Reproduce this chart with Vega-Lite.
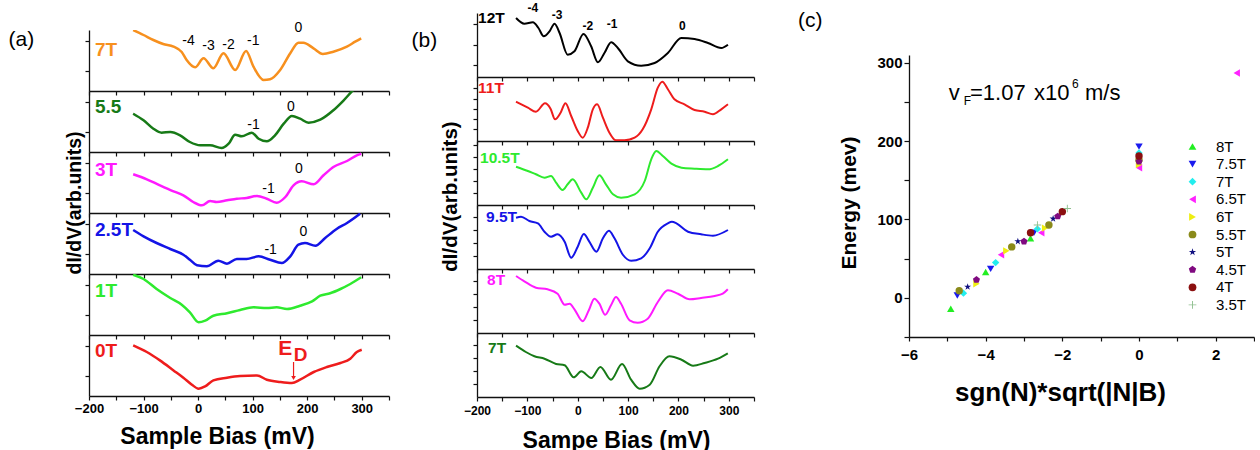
{
 "$schema": "https://vega.github.io/schema/vega-lite/v6.json",
 "background": "white",
 "padding": {"left": 8, "top": 2, "right": 0, "bottom": 0},
 "config": {
  "view": {"stroke": null},
  "font": "Liberation Sans",
  "text": {"font": "Liberation Sans"},
  "axis": {"grid": false, "domainColor": "#111", "tickColor": "#111", "domainWidth": 1.3, "tickWidth": 1.2, "tickSize": 4, "labelFont": "Liberation Sans", "titleFont": "Liberation Sans", "labelColor": "#000", "titleColor": "#000", "labelFontWeight": "bold", "titleFontWeight": "bold", "labelFlush": false, "labelOverlap": false}
 },
 "datasets": {
  "a": [
   {"B":"7T","bias":-119,"signal":61},{"B":"7T","bias":-100,"signal":56},{"B":"7T","bias":-82,"signal":51},{"B":"7T","bias":-64,"signal":47},{"B":"7T","bias":-45,"signal":44.3},{"B":"7T","bias":-30,"signal":39},{"B":"7T","bias":-21,"signal":31},{"B":"7T","bias":-5.5,"signal":23.7},{"B":"7T","bias":10,"signal":32.7},{"B":"7T","bias":28,"signal":22.7},{"B":"7T","bias":46.5,"signal":37.7},{"B":"7T","bias":68,"signal":21},{"B":"7T","bias":88,"signal":40},{"B":"7T","bias":101.5,"signal":24.3},{"B":"7T","bias":120,"signal":11},{"B":"7T","bias":132,"signal":11.7},{"B":"7T","bias":150.5,"signal":21},{"B":"7T","bias":169,"signal":37.7},{"B":"7T","bias":184,"signal":48.3},{"B":"7T","bias":193,"signal":48.3},{"B":"7T","bias":211.6,"signal":42.7},{"B":"7T","bias":228.7,"signal":37},{"B":"7T","bias":248,"signal":39.3},{"B":"7T","bias":272.8,"signal":44.3},{"B":"7T","bias":288,"signal":49.3},{"B":"7T","bias":299,"signal":52.7},
   {"B":"5.5","bias":-119,"signal":38.3},{"B":"5.5","bias":-100,"signal":31.7},{"B":"5.5","bias":-82,"signal":23.3},{"B":"5.5","bias":-67,"signal":19.3},{"B":"5.5","bias":-51,"signal":20},{"B":"5.5","bias":-33,"signal":16.7},{"B":"5.5","bias":-15,"signal":10},{"B":"5.5","bias":4,"signal":6.7},{"B":"5.5","bias":22,"signal":6.7},{"B":"5.5","bias":43,"signal":4},{"B":"5.5","bias":56,"signal":8.3},{"B":"5.5","bias":68,"signal":17.3},{"B":"5.5","bias":80,"signal":15.7},{"B":"5.5","bias":98.5,"signal":19.3},{"B":"5.5","bias":111,"signal":13.3},{"B":"5.5","bias":126,"signal":10.7},{"B":"5.5","bias":141,"signal":16.7},{"B":"5.5","bias":157,"signal":28.3},{"B":"5.5","bias":172,"signal":36},{"B":"5.5","bias":187,"signal":33.3},{"B":"5.5","bias":202.5,"signal":29.3},{"B":"5.5","bias":224,"signal":32.3},{"B":"5.5","bias":248,"signal":41.7},{"B":"5.5","bias":267,"signal":51.7},{"B":"5.5","bias":285,"signal":62.3},{"B":"5.5","bias":292,"signal":66},
   {"B":"3T","bias":-119,"signal":38.7},{"B":"3T","bias":-94,"signal":33.7},{"B":"3T","bias":-70,"signal":27.7},{"B":"3T","bias":-45,"signal":21.7},{"B":"3T","bias":-27,"signal":17.7},{"B":"3T","bias":-9,"signal":11},{"B":"3T","bias":7,"signal":7.7},{"B":"3T","bias":22,"signal":12},{"B":"3T","bias":34,"signal":11},{"B":"3T","bias":53,"signal":12.7},{"B":"3T","bias":71,"signal":14.3},{"B":"3T","bias":89,"signal":15},{"B":"3T","bias":108,"signal":17},{"B":"3T","bias":126,"signal":14.3},{"B":"3T","bias":144,"signal":10.3},{"B":"3T","bias":160,"signal":16},{"B":"3T","bias":175,"signal":27.7},{"B":"3T","bias":190,"signal":31.7},{"B":"3T","bias":212,"signal":28.7},{"B":"3T","bias":230,"signal":37.7},{"B":"3T","bias":248,"signal":46},{"B":"3T","bias":273,"signal":52},{"B":"3T","bias":291,"signal":57.7},{"B":"3T","bias":299,"signal":59.3},
   {"B":"2.5T","bias":-119,"signal":44},{"B":"2.5T","bias":-100,"signal":37.7},{"B":"2.5T","bias":-76,"signal":31},{"B":"2.5T","bias":-51,"signal":25},{"B":"2.5T","bias":-27,"signal":19.3},{"B":"2.5T","bias":-15,"signal":14.3},{"B":"2.5T","bias":-2,"signal":8.7},{"B":"2.5T","bias":16,"signal":7.7},{"B":"2.5T","bias":37,"signal":13.3},{"B":"2.5T","bias":53,"signal":10.3},{"B":"2.5T","bias":71,"signal":15},{"B":"2.5T","bias":89,"signal":15},{"B":"2.5T","bias":111,"signal":17.7},{"B":"2.5T","bias":132,"signal":14.3},{"B":"2.5T","bias":153.5,"signal":11},{"B":"2.5T","bias":169,"signal":17.7},{"B":"2.5T","bias":184,"signal":29.3},{"B":"2.5T","bias":196,"signal":31},{"B":"2.5T","bias":215,"signal":28.3},{"B":"2.5T","bias":233,"signal":36},{"B":"2.5T","bias":254,"signal":45},{"B":"2.5T","bias":273,"signal":51},{"B":"2.5T","bias":297,"signal":60.3},
   {"B":"1T","bias":-119,"signal":60.3},{"B":"1T","bias":-100,"signal":56},{"B":"1T","bias":-76,"signal":46},{"B":"1T","bias":-51,"signal":37},{"B":"1T","bias":-30,"signal":30.3},{"B":"1T","bias":-15,"signal":22.7},{"B":"1T","bias":1,"signal":12.7},{"B":"1T","bias":13,"signal":14.3},{"B":"1T","bias":28,"signal":19.3},{"B":"1T","bias":53,"signal":21.7},{"B":"1T","bias":77,"signal":25},{"B":"1T","bias":101.5,"signal":27.7},{"B":"1T","bias":126,"signal":27},{"B":"1T","bias":144,"signal":27.7},{"B":"1T","bias":163,"signal":26},{"B":"1T","bias":187,"signal":29.3},{"B":"1T","bias":209,"signal":33.7},{"B":"1T","bias":224,"signal":39.3},{"B":"1T","bias":242,"signal":41.7},{"B":"1T","bias":261,"signal":46},{"B":"1T","bias":279,"signal":51},{"B":"1T","bias":299,"signal":57.7},
   {"B":"0T","bias":-119,"signal":50.6},{"B":"0T","bias":-94,"signal":44},{"B":"0T","bias":-70,"signal":35.6},{"B":"0T","bias":-45,"signal":25.6},{"B":"0T","bias":-27,"signal":18.3},{"B":"0T","bias":-12,"signal":11.6},{"B":"0T","bias":1,"signal":7.3},{"B":"0T","bias":13,"signal":9.6},{"B":"0T","bias":28,"signal":15.6},{"B":"0T","bias":53,"signal":18.3},{"B":"0T","bias":77,"signal":20},{"B":"0T","bias":108,"signal":20.6},{"B":"0T","bias":126,"signal":16.3},{"B":"0T","bias":150.5,"signal":14},{"B":"0T","bias":172,"signal":13},{"B":"0T","bias":187,"signal":16.3},{"B":"0T","bias":212,"signal":24},{"B":"0T","bias":236,"signal":29},{"B":"0T","bias":261,"signal":33},{"B":"0T","bias":279,"signal":37.3},{"B":"0T","bias":291,"signal":44},{"B":"0T","bias":300,"signal":46.3}
  ],
  "alab": [
   {"B":"7T","bias":-17.7,"signal":50.3,"t":"-4"},{"B":"7T","bias":19,"signal":45,"t":"-3"},{"B":"7T","bias":55.7,"signal":46,"t":"-2"},{"B":"7T","bias":101,"signal":50.3,"t":"-1"},{"B":"7T","bias":184,"signal":62.7,"t":"0"},
   {"B":"5.5","bias":101.5,"signal":26.7,"t":"-1"},{"B":"5.5","bias":170,"signal":45,"t":"0"},
   {"B":"3T","bias":129,"signal":24.3,"t":"-1"},{"B":"3T","bias":185,"signal":44.3,"t":"0"},
   {"B":"2.5T","bias":133,"signal":24.3,"t":"-1"},{"B":"2.5T","bias":193,"signal":41.7,"t":"0"}
  ],
  "aname": [
   {"B":"7T","bias":-189,"signal":40.7,"t":"7T"},{"B":"5.5","bias":-189,"signal":45,"t":"5.5"},{"B":"3T","bias":-189,"signal":43,"t":"3T"},{"B":"2.5T","bias":-189,"signal":44,"t":"2.5T"},{"B":"1T","bias":-189,"signal":44.3,"t":"1T"},{"B":"0T","bias":-189,"signal":44.6,"t":"0T"}
  ],
  "edtext": [{"bias":160,"signal":47,"t":"E"},{"bias":188,"signal":41,"t":"D"}],
  "edarrow": [{"bias":175,"signal":34,"signal2":18}],
  "b": [
   {"B":"12T","bias":-122.5,"signal":59},{"B":"12T","bias":-106,"signal":53.3},{"B":"12T","bias":-89,"signal":54.7},{"B":"12T","bias":-78,"signal":49},{"B":"12T","bias":-67.5,"signal":40.7},{"B":"12T","bias":-56,"signal":45.7},{"B":"12T","bias":-46,"signal":53.3},{"B":"12T","bias":-36,"signal":44},{"B":"12T","bias":-20,"signal":22.3},{"B":"12T","bias":-6.5,"signal":25.7},{"B":"12T","bias":11.4,"signal":43},{"B":"12T","bias":26.6,"signal":30.7},{"B":"12T","bias":40,"signal":14.7},{"B":"12T","bias":53,"signal":24},{"B":"12T","bias":66.4,"signal":34.7},{"B":"12T","bias":79.6,"signal":29},{"B":"12T","bias":99.5,"signal":15.7},{"B":"12T","bias":126,"signal":11.3},{"B":"12T","bias":152.6,"signal":14},{"B":"12T","bias":179,"signal":24},{"B":"12T","bias":205.6,"signal":39},{"B":"12T","bias":232,"signal":38},{"B":"12T","bias":258.6,"signal":34},{"B":"12T","bias":285,"signal":29},{"B":"12T","bias":298.3,"signal":32.3},
   {"B":"11T","bias":-122.5,"signal":39.3},{"B":"11T","bias":-99,"signal":33.3},{"B":"11T","bias":-83,"signal":29.3},{"B":"11T","bias":-65,"signal":37.7},{"B":"11T","bias":-54,"signal":32.3},{"B":"11T","bias":-45,"signal":21.7},{"B":"11T","bias":-34,"signal":28.3},{"B":"11T","bias":-24.4,"signal":37.7},{"B":"11T","bias":-13,"signal":25},{"B":"11T","bias":0,"signal":10},{"B":"11T","bias":10,"signal":3.3},{"B":"11T","bias":20,"signal":13.3},{"B":"11T","bias":30,"signal":31.7},{"B":"11T","bias":38.6,"signal":36.7},{"B":"11T","bias":50,"signal":23.3},{"B":"11T","bias":63,"signal":8.3},{"B":"11T","bias":76,"signal":0.7},{"B":"11T","bias":93,"signal":0.7},{"B":"11T","bias":113,"signal":3.3},{"B":"11T","bias":129,"signal":11.7},{"B":"11T","bias":146,"signal":31.7},{"B":"11T","bias":159,"signal":53.3},{"B":"11T","bias":168,"signal":59.3},{"B":"11T","bias":179,"signal":51.7},{"B":"11T","bias":192,"signal":41.7},{"B":"11T","bias":212,"signal":36.7},{"B":"11T","bias":232,"signal":31},{"B":"11T","bias":252,"signal":29.3},{"B":"11T","bias":268.5,"signal":26.7},{"B":"11T","bias":285,"signal":31.7},{"B":"11T","bias":298.3,"signal":36.7},
   {"B":"10.5T","bias":-122.5,"signal":38.3},{"B":"10.5T","bias":-99,"signal":34},{"B":"10.5T","bias":-83,"signal":30.7},{"B":"10.5T","bias":-66,"signal":27.3},{"B":"10.5T","bias":-53,"signal":29},{"B":"10.5T","bias":-43,"signal":22.3},{"B":"10.5T","bias":-30,"signal":15},{"B":"10.5T","bias":-20,"signal":20.7},{"B":"10.5T","bias":-10,"signal":25.7},{"B":"10.5T","bias":7,"signal":12.3},{"B":"10.5T","bias":17,"signal":5.7},{"B":"10.5T","bias":30,"signal":17.3},{"B":"10.5T","bias":43,"signal":29.7},{"B":"10.5T","bias":56,"signal":20.7},{"B":"10.5T","bias":70,"signal":10.7},{"B":"10.5T","bias":86,"signal":7.3},{"B":"10.5T","bias":113,"signal":10.7},{"B":"10.5T","bias":133,"signal":24},{"B":"10.5T","bias":146,"signal":45.7},{"B":"10.5T","bias":156,"signal":54},{"B":"10.5T","bias":169,"signal":49},{"B":"10.5T","bias":186,"signal":41.3},{"B":"10.5T","bias":206,"signal":37.3},{"B":"10.5T","bias":232,"signal":36.3},{"B":"10.5T","bias":259,"signal":35.7},{"B":"10.5T","bias":278.5,"signal":39},{"B":"10.5T","bias":298.3,"signal":45.7},
   {"B":"9.5T","bias":-122.5,"signal":51.3},{"B":"9.5T","bias":-112.5,"signal":52.3},{"B":"9.5T","bias":-96,"signal":48},{"B":"9.5T","bias":-79,"signal":45.7},{"B":"9.5T","bias":-66,"signal":37.3},{"B":"9.5T","bias":-53,"signal":32.3},{"B":"9.5T","bias":-40,"signal":34.7},{"B":"9.5T","bias":-26,"signal":27.3},{"B":"9.5T","bias":-13,"signal":11.3},{"B":"9.5T","bias":0,"signal":22.3},{"B":"9.5T","bias":12,"signal":35},{"B":"9.5T","bias":23,"signal":27.3},{"B":"9.5T","bias":37,"signal":17.3},{"B":"9.5T","bias":50,"signal":30.7},{"B":"9.5T","bias":62,"signal":38.3},{"B":"9.5T","bias":73,"signal":30.7},{"B":"9.5T","bias":90,"signal":14},{"B":"9.5T","bias":106,"signal":8.3},{"B":"9.5T","bias":126,"signal":10.7},{"B":"9.5T","bias":143,"signal":20.7},{"B":"9.5T","bias":159,"signal":37.3},{"B":"9.5T","bias":179,"signal":45.7},{"B":"9.5T","bias":187,"signal":47.3},{"B":"9.5T","bias":196,"signal":45.7},{"B":"9.5T","bias":219,"signal":37.3},{"B":"9.5T","bias":245,"signal":34.7},{"B":"9.5T","bias":268.5,"signal":33.3},{"B":"9.5T","bias":298.3,"signal":39},
   {"B":"8T","bias":-122.5,"signal":57},{"B":"8T","bias":-106,"signal":51.7},{"B":"8T","bias":-83,"signal":45.3},{"B":"8T","bias":-60,"signal":43.7},{"B":"8T","bias":-40,"signal":39.3},{"B":"8T","bias":-26,"signal":28.3},{"B":"8T","bias":-16,"signal":29.3},{"B":"8T","bias":-6.5,"signal":23.7},{"B":"8T","bias":10,"signal":11.7},{"B":"8T","bias":22,"signal":22.7},{"B":"8T","bias":33,"signal":34.3},{"B":"8T","bias":43,"signal":29.3},{"B":"8T","bias":54.5,"signal":18.3},{"B":"8T","bias":66,"signal":27.7},{"B":"8T","bias":76,"signal":36},{"B":"8T","bias":86,"signal":29.3},{"B":"8T","bias":103,"signal":12.7},{"B":"8T","bias":119,"signal":10.3},{"B":"8T","bias":139,"signal":14.3},{"B":"8T","bias":159,"signal":31},{"B":"8T","bias":179,"signal":42.7},{"B":"8T","bias":199,"signal":39.3},{"B":"8T","bias":222,"signal":33.7},{"B":"8T","bias":245,"signal":35},{"B":"8T","bias":272,"signal":37},{"B":"8T","bias":288,"signal":39.3},{"B":"8T","bias":298,"signal":43.7},
   {"B":"7T","bias":-122.5,"signal":51.3},{"B":"7T","bias":-103,"signal":45},{"B":"7T","bias":-86,"signal":40.7},{"B":"7T","bias":-66,"signal":38.3},{"B":"7T","bias":-43,"signal":33},{"B":"7T","bias":-26,"signal":31.7},{"B":"7T","bias":-8,"signal":19.7},{"B":"7T","bias":7,"signal":25.7},{"B":"7T","bias":27,"signal":19},{"B":"7T","bias":45,"signal":30},{"B":"7T","bias":66,"signal":17.3},{"B":"7T","bias":88,"signal":33},{"B":"7T","bias":106,"signal":17.3},{"B":"7T","bias":123,"signal":8.3},{"B":"7T","bias":143,"signal":12.3},{"B":"7T","bias":162.5,"signal":30.7},{"B":"7T","bias":182,"signal":40.7},{"B":"7T","bias":206,"signal":37.3},{"B":"7T","bias":229,"signal":31.3},{"B":"7T","bias":252,"signal":34},{"B":"7T","bias":278.5,"signal":38.3},{"B":"7T","bias":298,"signal":43.7}
  ],
  "blab": [
   {"B":"12T","bias":-89,"signal":69,"t":"-4"},{"B":"12T","bias":-41,"signal":62.3,"t":"-3"},{"B":"12T","bias":20,"signal":50.7,"t":"-2"},{"B":"12T","bias":68.4,"signal":53.3,"t":"-1"},{"B":"12T","bias":207.5,"signal":50.7,"t":"0"}
  ],
  "bname": [
   {"B":"12T","bias":-198,"signal":59,"t":"12T"},{"B":"11T","bias":-198,"signal":53.3,"t":"11T"},{"B":"10.5T","bias":-194,"signal":47.3,"t":"10.5T"},{"B":"9.5T","bias":-182,"signal":52.3,"t":"9.5T"},{"B":"8T","bias":-180,"signal":52.7,"t":"8T"},{"B":"7T","bias":-178,"signal":49,"t":"7T"}
  ],
  "c": [
   {"B":"8T","n":-4.91,"E":-14},{"B":"8T","n":-4.0,"E":33},{"B":"8T","n":-2.83,"E":76},
   {"B":"7.5T","n":-4.74,"E":3},{"B":"7.5T","n":-3.87,"E":37},{"B":"7.5T","n":-2.74,"E":83},{"B":"7.5T","n":0,"E":193},
   {"B":"7T","n":-4.58,"E":6},{"B":"7T","n":-3.74,"E":45},{"B":"7T","n":-2.65,"E":88},{"B":"7T","n":0,"E":185},
   {"B":"6.5T","n":-3.6,"E":55},{"B":"6.5T","n":-2.55,"E":83},{"B":"6.5T","n":0,"E":166},{"B":"6.5T","n":2.55,"E":287},
   {"B":"6T","n":-4.24,"E":18},{"B":"6T","n":-3.46,"E":60},{"B":"6T","n":-2.45,"E":89},{"B":"6T","n":0,"E":170},
   {"B":"5.5T","n":-4.69,"E":9},{"B":"5.5T","n":-3.32,"E":65},{"B":"5.5T","n":-2.35,"E":93},{"B":"5.5T","n":0,"E":176},
   {"B":"5T","n":-4.47,"E":14},{"B":"5T","n":-3.16,"E":72},{"B":"5T","n":-2.24,"E":101},
   {"B":"4.5T","n":-4.24,"E":23},{"B":"4.5T","n":-3.0,"E":72},{"B":"4.5T","n":-2.12,"E":104},{"B":"4.5T","n":0,"E":174},
   {"B":"4T","n":-2.83,"E":83},{"B":"4T","n":-2.0,"E":110},{"B":"4T","n":0,"E":181},
   {"B":"3.5T","n":-2.65,"E":93},{"B":"3.5T","n":-1.87,"E":114}
  ],
  "vf": [
   {"n":-4.96,"E":252,"t":"v"},{"n":-4.57,"E":246.5,"t":"F"},{"n":-4.41,"E":252,"t":"=1.07"},{"n":-2.74,"E":252,"t":"x10"},{"n":-1.75,"E":268,"t":"6"},{"n":-1.41,"E":252,"t":"m/s"}
  ]
 },
 "spacing": 43,
 "hconcat": [
  {
   "spacing": 21,
   "hconcat": [
    {
     "vconcat": [
      {"width": 300, "height": 17, "data": {"values": []}, "mark": "point"},
      {"width": 300, "height": 61,
       "encoding": {"x": {"field": "bias", "type": "quantitative", "scale": {"domain": [-200, 350], "nice": false, "zero": false}, "axis": {"title": null, "labels": false, "values": [-200,-150,-100,-50,0,50,100,150,200,250,300,350]}},
                    "y": {"field": "signal", "type": "quantitative", "scale": {"domain": [0, 61], "nice": false, "zero": false}, "axis": {"title": "(a)", "labels": false, "values": [20, 50], "titleAngle": 0, "titleX": -81, "titleY": 9.5, "titleAlign": "left", "titleBaseline": "middle", "titleFontSize": 21, "titleFontWeight": "normal"}}},
       "layer": [
        {"data": {"name": "a"}, "transform": [{"filter": "datum.B === '7T'"}], "mark": {"type": "line", "color": "#F7901E", "strokeWidth": 2.5, "interpolate": "monotone", "clip": true}},
        {"data": {"name": "alab"}, "transform": [{"filter": "datum.B === '7T'"}], "mark": {"type": "text", "fontSize": 14, "color": "#000"}, "encoding": {"text": {"field": "t"}}},
        {"data": {"name": "aname"}, "transform": [{"filter": "datum.B === '7T'"}], "mark": {"type": "text", "align": "left", "fontSize": 19, "fontWeight": "bold", "color": "#F7901E"}, "encoding": {"text": {"field": "t"}}}
       ]},
      {"width": 300, "height": 61,
       "encoding": {"x": {"field": "bias", "type": "quantitative", "scale": {"domain": [-200, 350], "nice": false, "zero": false}, "axis": {"title": null, "labels": false, "values": [-200,-150,-100,-50,0,50,100,150,200,250,300,350]}},
                    "y": {"field": "signal", "type": "quantitative", "scale": {"domain": [0, 61], "nice": false, "zero": false}, "axis": {"title": null, "labels": false, "values": [20, 50]}}},
       "layer": [
        {"data": {"name": "a"}, "transform": [{"filter": "datum.B === '5.5'"}], "mark": {"type": "line", "color": "#177A17", "strokeWidth": 2.5, "interpolate": "monotone", "clip": true}},
        {"data": {"name": "alab"}, "transform": [{"filter": "datum.B === '5.5'"}], "mark": {"type": "text", "fontSize": 14, "color": "#000"}, "encoding": {"text": {"field": "t"}}},
        {"data": {"name": "aname"}, "transform": [{"filter": "datum.B === '5.5'"}], "mark": {"type": "text", "align": "left", "fontSize": 19, "fontWeight": "bold", "color": "#177A17"}, "encoding": {"text": {"field": "t"}}}
       ]},
      {"width": 300, "height": 61,
       "encoding": {"x": {"field": "bias", "type": "quantitative", "scale": {"domain": [-200, 350], "nice": false, "zero": false}, "axis": {"title": null, "labels": false, "values": [-200,-150,-100,-50,0,50,100,150,200,250,300,350]}},
                    "y": {"field": "signal", "type": "quantitative", "scale": {"domain": [0, 61], "nice": false, "zero": false}, "axis": {"title": "dI/dV(arb.units)", "labels": false, "values": [20, 50], "titleAngle": 270, "titleX": -5, "titleY": 50.5, "titleAlign": "center", "titleBaseline": "bottom", "titleFontSize": 19.5}}},
       "layer": [
        {"data": {"name": "a"}, "transform": [{"filter": "datum.B === '3T'"}], "mark": {"type": "line", "color": "#FF1AFF", "strokeWidth": 2.5, "interpolate": "monotone", "clip": true}},
        {"data": {"name": "alab"}, "transform": [{"filter": "datum.B === '3T'"}], "mark": {"type": "text", "fontSize": 14, "color": "#000"}, "encoding": {"text": {"field": "t"}}},
        {"data": {"name": "aname"}, "transform": [{"filter": "datum.B === '3T'"}], "mark": {"type": "text", "align": "left", "fontSize": 19, "fontWeight": "bold", "color": "#FF1AFF"}, "encoding": {"text": {"field": "t"}}}
       ]},
      {"width": 300, "height": 61,
       "encoding": {"x": {"field": "bias", "type": "quantitative", "scale": {"domain": [-200, 350], "nice": false, "zero": false}, "axis": {"title": null, "labels": false, "values": [-200,-150,-100,-50,0,50,100,150,200,250,300,350]}},
                    "y": {"field": "signal", "type": "quantitative", "scale": {"domain": [0, 61], "nice": false, "zero": false}, "axis": {"title": null, "labels": false, "values": [20, 50]}}},
       "layer": [
        {"data": {"name": "a"}, "transform": [{"filter": "datum.B === '2.5T'"}], "mark": {"type": "line", "color": "#1414E6", "strokeWidth": 2.5, "interpolate": "monotone", "clip": true}},
        {"data": {"name": "alab"}, "transform": [{"filter": "datum.B === '2.5T'"}], "mark": {"type": "text", "fontSize": 14, "color": "#000"}, "encoding": {"text": {"field": "t"}}},
        {"data": {"name": "aname"}, "transform": [{"filter": "datum.B === '2.5T'"}], "mark": {"type": "text", "align": "left", "fontSize": 19, "fontWeight": "bold", "color": "#1414E6"}, "encoding": {"text": {"field": "t"}}}
       ]},
      {"width": 300, "height": 61,
       "encoding": {"x": {"field": "bias", "type": "quantitative", "scale": {"domain": [-200, 350], "nice": false, "zero": false}, "axis": {"title": null, "labels": false, "values": [-200,-150,-100,-50,0,50,100,150,200,250,300,350]}},
                    "y": {"field": "signal", "type": "quantitative", "scale": {"domain": [0, 61], "nice": false, "zero": false}, "axis": {"title": null, "labels": false, "values": [20, 50]}}},
       "layer": [
        {"data": {"name": "a"}, "transform": [{"filter": "datum.B === '1T'"}], "mark": {"type": "line", "color": "#2EEA2E", "strokeWidth": 2.5, "interpolate": "monotone", "clip": true}},
        {"data": {"name": "aname"}, "transform": [{"filter": "datum.B === '1T'"}], "mark": {"type": "text", "align": "left", "fontSize": 19, "fontWeight": "bold", "color": "#2EEA2E"}, "encoding": {"text": {"field": "t"}}}
       ]},
      {"width": 300, "height": 61,
       "encoding": {"x": {"field": "bias", "type": "quantitative", "scale": {"domain": [-200, 350], "nice": false, "zero": false}, "axis": {"title": "Sample Bias (mV)", "values": [-200,-150,-100,-50,0,50,100,150,200,250,300,350], "labelExpr": "datum.value % 100 === 0 && datum.value < 350 ? datum.label : ''", "labelFontSize": 13, "labelPadding": 2, "titleFontSize": 23, "titleX": 128, "titleY": 40, "titleAlign": "center", "titleBaseline": "middle"}},
                    "y": {"field": "signal", "type": "quantitative", "scale": {"domain": [0, 61], "nice": false, "zero": false}, "axis": {"title": null, "labels": false, "values": [20, 50]}}},
       "layer": [
        {"data": {"name": "a"}, "transform": [{"filter": "datum.B === '0T'"}], "mark": {"type": "line", "color": "#EE1C1C", "strokeWidth": 2.5, "interpolate": "monotone", "clip": true}},
        {"data": {"name": "aname"}, "transform": [{"filter": "datum.B === '0T'"}], "mark": {"type": "text", "align": "left", "fontSize": 19, "fontWeight": "bold", "color": "#EE1C1C"}, "encoding": {"text": {"field": "t"}}},
        {"data": {"name": "edtext"}, "transform": [{"filter": "datum.t === 'E'"}], "mark": {"type": "text", "fontSize": 21, "fontWeight": "bold", "color": "#EE1C1C"}, "encoding": {"text": {"field": "t"}}},
        {"data": {"name": "edtext"}, "transform": [{"filter": "datum.t === 'D'"}], "mark": {"type": "text", "fontSize": 19, "fontWeight": "bold", "color": "#EE1C1C"}, "encoding": {"text": {"field": "t"}}},
        {"data": {"name": "edarrow"}, "mark": {"type": "rule", "color": "#EE1C1C", "strokeWidth": 1.2}, "encoding": {"y2": {"field": "signal2"}}},
        {"data": {"name": "edarrow"}, "mark": {"type": "point", "shape": "triangle-down", "filled": true, "size": 22, "color": "#EE1C1C", "opacity": 1}, "encoding": {"y": {"field": "signal2", "type": "quantitative"}}}
       ]}
     ],
     "spacing": 0,
     "bounds": "flush",
     "resolve": {"scale": {"x": "independent", "y": "independent"}, "axis": {"x": "independent", "y": "independent"}}
    },
    {
     "vconcat": [
      {"width": 277, "height": 64,
       "encoding": {"x": {"field": "bias", "type": "quantitative", "scale": {"domain": [-200, 350], "nice": false, "zero": false}, "axis": {"title": null, "labels": false, "values": [-200,-150,-100,-50,0,50,100,150,200,250,300,350]}},
                    "y": {"field": "signal", "type": "quantitative", "scale": {"domain": [0, 64], "nice": false, "zero": false}, "axis": {"title": "(b)", "labels": false, "values": [12, 32, 53], "titleAngle": 0, "titleX": -66, "titleY": 27, "titleAlign": "left", "titleBaseline": "middle", "titleFontSize": 21, "titleFontWeight": "normal"}}},
       "layer": [
        {"data": {"name": "b"}, "transform": [{"filter": "datum.B === '12T'"}], "mark": {"type": "line", "color": "#000", "strokeWidth": 2, "interpolate": "monotone", "clip": true}},
        {"data": {"name": "blab"}, "transform": [{"filter": "datum.B === '12T'"}], "mark": {"type": "text", "fontSize": 12, "fontWeight": "bold", "color": "#000"}, "encoding": {"text": {"field": "t"}}},
        {"data": {"name": "bname"}, "transform": [{"filter": "datum.B === '12T'"}], "mark": {"type": "text", "align": "left", "fontSize": 15.5, "fontWeight": "bold", "color": "#000"}, "encoding": {"text": {"field": "t"}}}
       ]},
      {"width": 277, "height": 64,
       "encoding": {"x": {"field": "bias", "type": "quantitative", "scale": {"domain": [-200, 350], "nice": false, "zero": false}, "axis": {"title": null, "labels": false, "values": [-200,-150,-100,-50,0,50,100,150,200,250,300,350]}},
                    "y": {"field": "signal", "type": "quantitative", "scale": {"domain": [0, 64], "nice": false, "zero": false}, "axis": {"title": null, "labels": false, "values": [12, 22, 32, 42, 53]}}},
       "layer": [
        {"data": {"name": "b"}, "transform": [{"filter": "datum.B === '11T'"}], "mark": {"type": "line", "color": "#EE1C1C", "strokeWidth": 2, "interpolate": "monotone", "clip": true}},
        {"data": {"name": "bname"}, "transform": [{"filter": "datum.B === '11T'"}], "mark": {"type": "text", "align": "left", "fontSize": 15.5, "fontWeight": "bold", "color": "#EE1C1C"}, "encoding": {"text": {"field": "t"}}}
       ]},
      {"width": 277, "height": 64,
       "encoding": {"x": {"field": "bias", "type": "quantitative", "scale": {"domain": [-200, 350], "nice": false, "zero": false}, "axis": {"title": null, "labels": false, "values": [-200,-150,-100,-50,0,50,100,150,200,250,300,350]}},
                    "y": {"field": "signal", "type": "quantitative", "scale": {"domain": [0, 64], "nice": false, "zero": false}, "axis": {"title": "dI/dV(arb.units)", "labels": false, "values": [12, 24, 36, 48, 60], "titleAngle": 270, "titleX": -17, "titleY": 55, "titleAlign": "center", "titleBaseline": "bottom", "titleFontSize": 20.5}}},
       "layer": [
        {"data": {"name": "b"}, "transform": [{"filter": "datum.B === '10.5T'"}], "mark": {"type": "line", "color": "#2EEA2E", "strokeWidth": 2, "interpolate": "monotone", "clip": true}},
        {"data": {"name": "bname"}, "transform": [{"filter": "datum.B === '10.5T'"}], "mark": {"type": "text", "align": "left", "fontSize": 15.5, "fontWeight": "bold", "color": "#2EEA2E"}, "encoding": {"text": {"field": "t"}}}
       ]},
      {"width": 277, "height": 64,
       "encoding": {"x": {"field": "bias", "type": "quantitative", "scale": {"domain": [-200, 350], "nice": false, "zero": false}, "axis": {"title": null, "labels": false, "values": [-200,-150,-100,-50,0,50,100,150,200,250,300,350]}},
                    "y": {"field": "signal", "type": "quantitative", "scale": {"domain": [0, 64], "nice": false, "zero": false}, "axis": {"title": null, "labels": false, "values": [13, 26, 39, 52]}}},
       "layer": [
        {"data": {"name": "b"}, "transform": [{"filter": "datum.B === '9.5T'"}], "mark": {"type": "line", "color": "#1414E6", "strokeWidth": 2, "interpolate": "monotone", "clip": true}},
        {"data": {"name": "bname"}, "transform": [{"filter": "datum.B === '9.5T'"}], "mark": {"type": "text", "align": "left", "fontSize": 15.5, "fontWeight": "bold", "color": "#1414E6"}, "encoding": {"text": {"field": "t"}}}
       ]},
      {"width": 277, "height": 64,
       "encoding": {"x": {"field": "bias", "type": "quantitative", "scale": {"domain": [-200, 350], "nice": false, "zero": false}, "axis": {"title": null, "labels": false, "values": [-200,-150,-100,-50,0,50,100,150,200,250,300,350]}},
                    "y": {"field": "signal", "type": "quantitative", "scale": {"domain": [0, 64], "nice": false, "zero": false}, "axis": {"title": null, "labels": false, "values": [13, 26, 39, 52]}}},
       "layer": [
        {"data": {"name": "b"}, "transform": [{"filter": "datum.B === '8T'"}], "mark": {"type": "line", "color": "#FF1AFF", "strokeWidth": 2, "interpolate": "monotone", "clip": true}},
        {"data": {"name": "bname"}, "transform": [{"filter": "datum.B === '8T'"}], "mark": {"type": "text", "align": "left", "fontSize": 15.5, "fontWeight": "bold", "color": "#FF1AFF"}, "encoding": {"text": {"field": "t"}}}
       ]},
      {"width": 277, "height": 64,
       "encoding": {"x": {"field": "bias", "type": "quantitative", "scale": {"domain": [-200, 350], "nice": false, "zero": false}, "axis": {"title": "Sampe Bias (mV)", "values": [-200,-150,-100,-50,0,50,100,150,200,250,300,350], "labelExpr": "datum.value % 100 === 0 && datum.value < 350 ? datum.label : ''", "labelFontSize": 12, "labelPadding": 4, "titleFontSize": 23, "titleX": 139, "titleY": 43, "titleAlign": "center", "titleBaseline": "middle"}},
                    "y": {"field": "signal", "type": "quantitative", "scale": {"domain": [0, 64], "nice": false, "zero": false}, "axis": {"title": null, "labels": false, "values": [13, 26, 39, 52]}}},
       "layer": [
        {"data": {"name": "b"}, "transform": [{"filter": "datum.B === '7T'"}], "mark": {"type": "line", "color": "#177A17", "strokeWidth": 2, "interpolate": "monotone", "clip": true}},
        {"data": {"name": "bname"}, "transform": [{"filter": "datum.B === '7T'"}], "mark": {"type": "text", "align": "left", "fontSize": 15.5, "fontWeight": "bold", "color": "#177A17"}, "encoding": {"text": {"field": "t"}}}
       ]}
     ],
     "spacing": 0,
     "bounds": "flush",
     "resolve": {"scale": {"x": "independent", "y": "independent"}, "axis": {"x": "independent", "y": "independent"}}
    }
   ]
  },
  {
   "vconcat": [
    {"width": 345, "height": 42, "data": {"values": []}, "mark": "point"},
    {"width": 345, "height": 282,
     "title": {"text": "(c)", "anchor": "start", "frame": "group", "dx": -111, "offset": 13, "baseline": "middle", "fontSize": 21, "fontWeight": "normal", "font": "Liberation Sans", "color": "#000"},
     "encoding": {"x": {"field": "n", "type": "quantitative", "scale": {"domain": [-6, 3], "nice": false, "zero": false}, "axis": {"title": "sgn(N)*sqrt(|N|B)", "values": [-6,-5,-4,-3,-2,-1,0,1,2,3], "labelExpr": "datum.value % 2 === 0 ? datum.label : ''", "labelFontSize": 15, "labelPadding": 6, "titleFontSize": 26, "titleX": 151, "titleY": 55, "titleAlign": "center", "titleBaseline": "middle"}},
                  "y": {"field": "E", "type": "quantitative", "scale": {"domain": [-50, 310], "nice": false, "zero": false}, "axis": {"title": "Energy (mev)", "values": [-50,0,50,100,150,200,250,300], "labelExpr": "datum.value % 100 === 0 ? datum.label : ''", "labelFontSize": 15, "labelPadding": 2, "tickSize": 5, "titleFontSize": 21, "titleAngle": 270, "titleX": -50, "titleY": 147.5, "titleAlign": "center", "titleBaseline": "bottom"}}},
     "layer": [
      {"data": {"name": "c"}, "mark": {"type": "point", "filled": true, "size": 55, "opacity": 1},
       "encoding": {
        "color": {"field": "B", "type": "nominal", "scale": {"domain": ["8T","7.5T","7T","6.5T","6T","5.5T","5T","4.5T","4T","3.5T"], "range": ["#22EE22","#1A1AEE","#22EEEE","#FF22FF","#EEEE11","#8A8A1A","#101080","#800A80","#8B1010","#8FBF8F"]},
                  "legend": {"title": null, "orient": "none", "legendX": 1096, "legendY": 126, "padding": 0, "labelFontSize": 15, "labelFont": "Liberation Sans", "labelColor": "#000", "symbolSize": 60, "rowPadding": 1.6, "labelOffset": 16}},
        "shape": {"field": "B", "type": "nominal", "scale": {"domain": ["8T","7.5T","7T","6.5T","6T","5.5T","5T","4.5T","4T","3.5T"], "range": ["triangle-up","triangle-down","diamond","triangle-left","triangle-right","circle","M0,-1L0.2245,-0.309L0.951,-0.309L0.363,0.118L0.588,0.809L0,0.382L-0.588,0.809L-0.363,0.118L-0.951,-0.309L-0.2245,-0.309Z","M0,-1L0.951,-0.309L0.588,0.809L-0.588,0.809L-0.951,-0.309Z","circle","M-1,-0.12L-0.12,-0.12L-0.12,-1L0.12,-1L0.12,-0.12L1,-0.12L1,0.12L0.12,0.12L0.12,1L-0.12,1L-0.12,0.12L-1,0.12Z"]}}
       }},
      {"data": {"name": "vf"}, "transform": [{"filter": "datum.t !== 'F' && datum.t !== '6'"}], "mark": {"type": "text", "align": "left", "baseline": "alphabetic", "fontSize": 22, "color": "#000"}, "encoding": {"text": {"field": "t"}}},
      {"data": {"name": "vf"}, "transform": [{"filter": "datum.t === 'F' || datum.t === '6'"}], "mark": {"type": "text", "align": "left", "baseline": "alphabetic", "fontSize": 12, "color": "#000"}, "encoding": {"text": {"field": "t"}}}
     ]}
   ],
   "spacing": 0,
   "bounds": "flush"
  }
 ]
}
